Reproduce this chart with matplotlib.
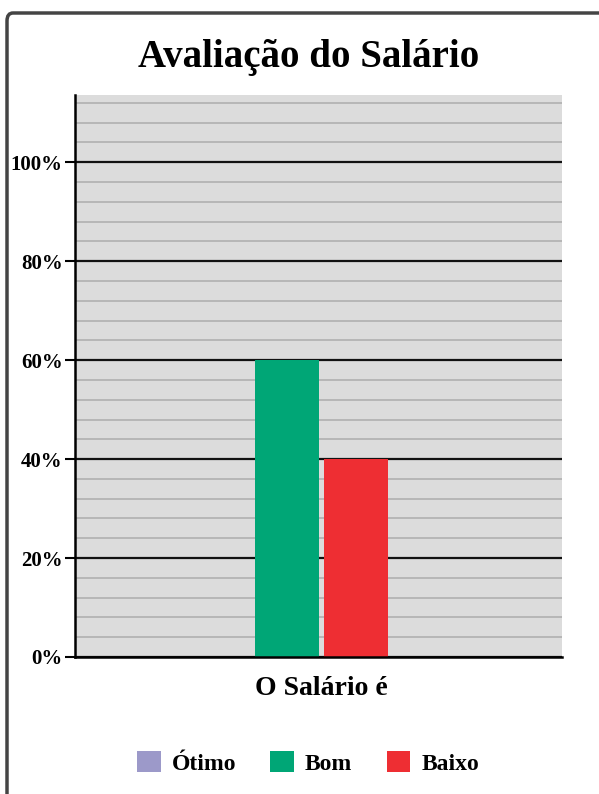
import numpy as np
import matplotlib
matplotlib.use("Agg")
import matplotlib.pyplot as plt
from matplotlib.patches import FancyBboxPatch
from matplotlib.ticker import MultipleLocator, FuncFormatter

# data
categoria = "O Salário é"
series = ["Ótimo", "Bom", "Baixo"]
valores = [0, 60, 40]
cores = ["#9c99c9", "#00a676", "#ee2e33"]
y_ticks = [0, 20, 40, 60, 80, 100]

plt.rcParams['font.family'] = ['Liberation Serif', 'DejaVu Serif']
plt.rcParams['font.weight'] = 'bold'

fig = plt.figure(figsize=(5.99, 7.94), dpi=100)
W, H = 599, 794

# frame around the chart (only left and top visible, rest cropped)
frame = FancyBboxPatch((7 / W, -0.1), 1.2, 1 - 13 / H + 0.1,
                       boxstyle="round,pad=0,rounding_size=0.01",
                       transform=fig.transFigure, fill=False,
                       edgecolor="#444444", linewidth=2.5, clip_on=False)
fig.patches.append(frame)

ax = fig.add_axes([75 / W, (H - 657) / H, 487 / W, (657 - 95) / H])
ax.set_facecolor("#dcdcdc")

bw = 0.18
step = 0.1955
offsets = [-1.5 * step, -0.5 * step, 0.5 * step]
for name, val, cor, off in zip(series, valores, cores, offsets):
    ax.bar(off, val, width=bw, color=cor, label=name, zorder=3)

ax.set_ylim(0, 113.6)
ax.set_xlim(-0.694, 0.676)
ax.set_yticks(y_ticks)
ax.yaxis.set_minor_locator(MultipleLocator(4))
ax.yaxis.set_major_formatter(FuncFormatter(lambda v, p: f"{v:.0f}%"))
ax.grid(which="minor", axis="y", color="#b0b0b0", linewidth=1.2, zorder=1)
ax.grid(which="major", axis="y", color="#111111", linewidth=1.6, zorder=2)
ax.tick_params(axis="y", which="major", length=7, width=1.5, labelsize=15, pad=2)
ax.tick_params(axis="y", which="minor", length=0)
ax.set_xticks([0])
ax.set_xticklabels([categoria], fontsize=20)
ax.tick_params(axis="x", length=0, pad=14)

for s in ["top", "right"]:
    ax.spines[s].set_visible(False)
ax.spines["left"].set_linewidth(1.8)
ax.spines["bottom"].set_linewidth(1.8)
ax.spines["left"].set_zorder(4)
ax.spines["bottom"].set_zorder(4)

fig.text(309 / W, 1 - 57 / H, "Avaliação do Salário", ha="center", va="center",
         fontsize=28, fontweight="bold")

fig.legend(loc="center", bbox_to_anchor=(308 / W, 1 - 763 / H), ncol=3,
           frameon=False, fontsize=17, handlelength=1.0, handleheight=1.0,
           columnspacing=1.45, handletextpad=0.47)

fig.savefig("out.png", dpi=100)
